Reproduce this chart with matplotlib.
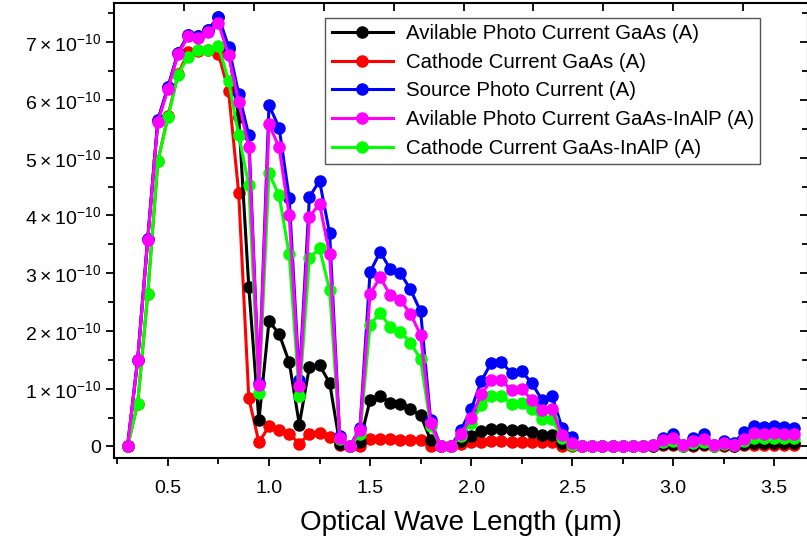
import matplotlib
matplotlib.use("Agg")
import matplotlib.pyplot as plt
import numpy as np
from matplotlib.ticker import FixedLocator, MultipleLocator, FuncFormatter

plt.rcParams['font.family'] = ['Liberation Sans', 'DejaVu Sans']
plt.rcParams['mathtext.fontset'] = 'custom'
plt.rcParams['mathtext.rm'] = 'Liberation Sans'

# wavelength samples (um)
wavelength = [0.30, 0.35, 0.40, 0.45, 0.50, 0.55, 0.60, 0.65, 0.70, 0.75, 0.80, 0.85, 0.90, 0.95,
              1.00, 1.05, 1.10, 1.15, 1.20, 1.25, 1.30, 1.35, 1.40, 1.45,
              1.50, 1.55, 1.60, 1.65, 1.70, 1.75, 1.80, 1.85, 1.90, 1.95,
              2.00, 2.05, 2.10, 2.15, 2.20, 2.25, 2.30, 2.35, 2.40, 2.45, 2.50,
              2.55, 2.60, 2.65, 2.70, 2.75, 2.80, 2.85,
              2.90, 2.95, 3.00, 3.05, 3.10, 3.15, 3.20, 3.25, 3.30, 3.35, 3.40, 3.45, 3.50, 3.55, 3.60]

# currents in units of 1e-10 A
avail_gaas = [0, 1.50, 3.60, 5.65, 6.22, 6.82, 7.12, 7.10, 7.22, 7.44, 6.89, 5.70, 2.76, 0.45,
              2.17, 1.95, 1.46, 0.38, 1.38, 1.41, 1.10, 0.05, 0, 0.08,
              0.80, 0.87, 0.76, 0.73, 0.64, 0.54, 0.11, 0, 0, 0.09,
              0.18, 0.26, 0.31, 0.31, 0.28, 0.28, 0.25, 0.19, 0.19, 0.06, 0.02,
              0, 0, 0, 0, 0, 0, 0,
              0.01, 0.04, 0.05, 0.01, 0.03, 0.04, 0.01, 0.02, 0.01, 0.04, 0.06, 0.06, 0.06, 0.06, 0.06]

cathode_gaas = [0, 0.74, 2.64, 4.94, 5.72, 6.45, 6.83, 6.85, 6.87, 6.80, 6.15, 4.39, 0.84, 0.07,
                0.35, 0.29, 0.22, 0.05, 0.22, 0.23, 0.17, 0.02, 0, 0.0,
                0.13, 0.13, 0.13, 0.12, 0.12, 0.11, 0.01, 0, 0, 0.04,
                0.07, 0.08, 0.09, 0.09, 0.08, 0.08, 0.08, 0.07, 0.07, 0.01, 0.0,
                0, 0, 0, 0, 0, 0, 0,
                0.0, 0.02, 0.02, 0.0, 0.01, 0.02, 0.0, 0.01, 0.0, 0.02, 0.02, 0.02, 0.02, 0.02, 0.02]

source = [0, 1.50, 3.60, 5.65, 6.22, 6.82, 7.12, 7.10, 7.22, 7.44, 6.92, 6.11, 5.39, 1.10,
          5.91, 5.52, 4.30, 1.15, 4.32, 4.60, 3.69, 0.18, 0, 0.32,
          3.02, 3.37, 3.07, 3.00, 2.72, 2.34, 0.45, 0, 0, 0.29,
          0.64, 1.13, 1.45, 1.46, 1.27, 1.30, 1.10, 0.81, 0.88, 0.32, 0.17,
          0, 0, 0, 0, 0, 0, 0,
          0.03, 0.15, 0.22, 0.03, 0.15, 0.21, 0.03, 0.09, 0.06, 0.25, 0.36, 0.34, 0.36, 0.34, 0.32]

avail_inalp = [0, 1.49, 3.58, 5.62, 6.19, 6.80, 7.10, 7.07, 7.17, 7.33, 6.78, 5.96, 5.19, 1.07,
               5.58, 5.18, 4.00, 1.04, 3.98, 4.20, 3.33, 0.15, 0, 0.29,
               2.64, 2.93, 2.62, 2.53, 2.30, 1.93, 0.40, 0, 0, 0.22,
               0.50, 0.90, 1.15, 1.15, 0.97, 0.99, 0.81, 0.63, 0.64, 0.19, 0.06,
               0, 0, 0, 0, 0, 0, 0,
               0.03, 0.12, 0.15, 0.02, 0.10, 0.13, 0.02, 0.06, 0.03, 0.13, 0.24, 0.22, 0.23, 0.22, 0.22]

cathode_inalp = [0, 0.74, 2.64, 4.94, 5.70, 6.44, 6.75, 6.87, 6.87, 6.94, 6.33, 5.39, 4.53, 0.92,
                 4.73, 4.35, 3.33, 0.87, 3.26, 3.43, 2.71, 0.13, 0, 0.21,
                 2.11, 2.31, 2.07, 1.99, 1.80, 1.51, 0.35, 0, 0, 0.18,
                 0.41, 0.71, 0.88, 0.87, 0.74, 0.76, 0.64, 0.47, 0.48, 0.15, 0.03,
                 0, 0, 0, 0, 0, 0, 0,
                 0.02, 0.08, 0.09, 0.01, 0.06, 0.07, 0.01, 0.04, 0.02, 0.09, 0.14, 0.14, 0.14, 0.14, 0.14]

labels = ["Avilable Photo Current GaAs (A)", "Cathode Current GaAs (A)", "Source Photo Current (A)",
          "Avilable Photo Current GaAs-InAlP (A)", "Cathode Current GaAs-InAlP (A)"]
series = [avail_gaas, cathode_gaas, source, avail_inalp, cathode_inalp]
colors = ['#000000', '#ff0000', '#0000ff', '#ff00ff', '#00ff00']
zorders = [3, 2, 4, 6, 5]

# ticks on the top spine (unlabelled)
top_ticks = [0.580, 0.926, 1.271, 1.617, 1.963, 2.308, 2.654, 3.000, 3.345]

fig = plt.figure(figsize=(8.07, 5.41), dpi=100)
ax = fig.add_axes([114 / 807, 1 - 458 / 541, 694 / 807, 455 / 541])

x = np.array(wavelength)
for vals, lab, c, z in zip(series, labels, colors, zorders):
    ax.plot(x, np.array(vals) * 1e-10, '-o', color=c, lw=2.2, ms=8, mec=c, mfc=c,
            label=lab, zorder=z)

ax.set_xlim(0.233, 3.667)
ax.set_ylim(-0.2e-10, 7.68e-10)

ax.xaxis.set_major_locator(MultipleLocator(0.5))
ax.xaxis.set_minor_locator(MultipleLocator(0.25))
ax.yaxis.set_major_locator(FixedLocator([k * 1e-10 for k in range(8)]))
ax.yaxis.set_minor_locator(MultipleLocator(0.5e-10))


def yfmt(v, pos):
    k = int(round(v / 1e-10))
    if k == 0:
        return "0"
    return r'$\mathregular{%d\times10^{-10}}$' % k


ax.yaxis.set_major_formatter(FuncFormatter(yfmt))
ax.tick_params(axis='both', which='major', direction='out', length=6, width=1.3, labelsize=14)
ax.tick_params(axis='both', which='minor', direction='out', length=4, width=1.3)
ax.tick_params(axis='x', pad=10)

# top ticks
sec = ax.secondary_xaxis('top')
sec.xaxis.set_major_locator(FixedLocator(top_ticks))
sec.tick_params(direction='in', length=6, width=1.3, labeltop=False)
sec.spines['top'].set_visible(False)

# right ticks (inward)
secy = ax.secondary_yaxis('right')
secy.yaxis.set_major_locator(FixedLocator([k * 1e-10 for k in range(8)]))
secy.yaxis.set_minor_locator(MultipleLocator(0.5e-10))
secy.tick_params(which='major', direction='in', length=6, width=1.3, labelright=False)
secy.tick_params(which='minor', direction='in', length=4, width=1.3)

for s in ax.spines.values():
    s.set_linewidth(1.5)

ax.set_xlabel("Optical Wave Length (\u03bcm)", fontsize=20, labelpad=9)

leg = ax.legend(loc='upper left', bbox_to_anchor=(0.29, 0.99), fontsize=14.7,
                frameon=True, fancybox=False, edgecolor='#555555', framealpha=1,
                handlelength=3.0, labelspacing=0.48, borderpad=0.3, handletextpad=0.65)
leg.get_frame().set_linewidth(1.0)

fig.savefig("out.png", dpi=100)
